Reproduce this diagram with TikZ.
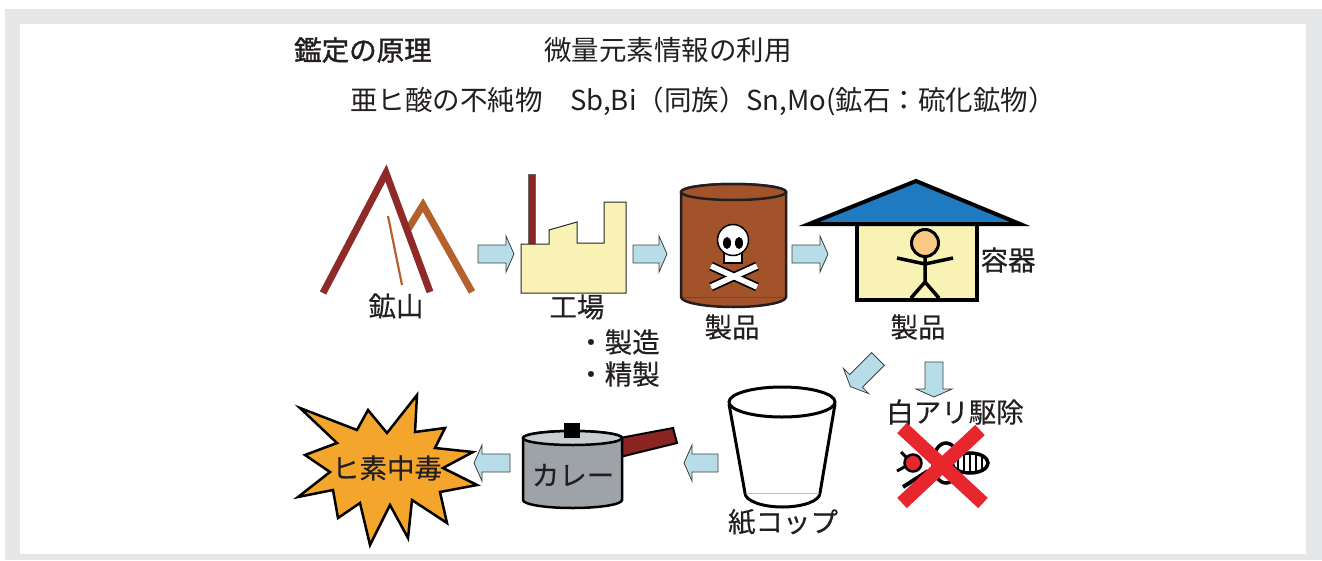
\documentclass[tikz,border=0pt]{standalone}
\usepackage{fontspec}
\setmainfont{Noto Sans CJK JP}
\newfontfamily\medfont{Noto Sans CJK JP}[FakeBold=0.35]
\newfontfamily\headfont{Noto Sans CJK JP}[FakeBold=1.3]
\definecolor{framegray}{HTML}{E6E7E8}
\definecolor{txt}{HTML}{231F20}
\definecolor{arrowblue}{HTML}{B7DDE8}
\definecolor{mtred}{HTML}{8E2A27}
\definecolor{mtorange}{HTML}{B4612E}
\definecolor{paleyellow}{HTML}{F8F2B4}
\definecolor{darkred}{HTML}{8B2524}
\definecolor{barrel}{HTML}{A3532A}
\definecolor{roof}{HTML}{1F7AC0}
\definecolor{skin}{HTML}{F8C985}
\definecolor{potgray}{HTML}{9EA3A8}
\definecolor{lidgray}{HTML}{C9CCD1}
\definecolor{blast}{HTML}{F4A52B}
\definecolor{xred}{HTML}{E8262E}
\tikzset{
  label/.style={inner sep=0pt, text=txt, font=\medfont\fontsize{27.5}{30}\selectfont},
  plain/.style={inner sep=0pt, text=txt, font=\fontsize{27.5}{30}\selectfont},
  blockarrow/.pic={
    \draw[fill=arrowblue, draw=black!75, line width=0.8pt, line join=miter]
      (0,-9) -- (\pgfkeysvalueof{/tikz/arrowlen}-8,-9) -- (\pgfkeysvalueof{/tikz/arrowlen}-8,-18)
      -- (\pgfkeysvalueof{/tikz/arrowlen},0) -- (\pgfkeysvalueof{/tikz/arrowlen}-8,18)
      -- (\pgfkeysvalueof{/tikz/arrowlen}-8,9) -- (0,9) -- cycle;
  },
  arrowlen/.initial=36,
}
\begin{document}
\begin{tikzpicture}[x=1pt,y=-1pt]
\useasboundingbox (0,0) rectangle (1322,560);
% frame
\fill[white] (0,0) rectangle (1322,560);
\fill[framegray] (5,9) rectangle (1322,560);
\fill[white] (20,24) rectangle (1306,554);

% headings
\node[plain, anchor=west, font=\headfont\fontsize{27.5}{30}\selectfont] (title) at (294,50) {鑑定の原理};
\node[plain, anchor=west] (subtitle) at (544,50) {微量元素情報の利用};
\node[plain, anchor=west] (impurity) at (350,101) {亜ヒ酸の不純物　Sb,Bi（同族）Sn,Mo(鉱石：硫化鉱物）};

% mountain
\draw[mtorange, line width=7pt, line join=miter] (407,231) -- (423,205) -- (472,292);
\draw[mtred, line width=7pt, line join=miter] (323,293) -- (386,173) -- (430,292);
\draw[mtorange, line width=2.2pt] (388,216) -- (402,285);
\node[label] (mine) at (396,306) {鉱山};

% factory
\draw[fill=darkred, draw=black!60, line width=0.6pt] (528,174) rectangle (535,244);
\draw[fill=paleyellow, draw=black!85, line width=1pt, line join=miter]
  (521,293) -- (521,244) -- (549,244) -- (549,230) -- (577,222) -- (577,243)
  -- (604,243) -- (604,202) -- (626,202) -- (626,293) -- cycle;
\node[label] (factory) at (577,307) {工場};
\node[label, anchor=west] (make) at (577,342) {・製造};
\node[label, anchor=west] (refine) at (577,374) {・精製};

% barrel with skull
\draw[fill=barrel, draw=txt, line width=2.5pt]
  (681,192) -- (681,297) arc[start angle=180, end angle=0, x radius=52.5, y radius=10]
  -- (786,192) arc[start angle=0, end angle=-180, x radius=52.5, y radius=8] -- cycle;
\draw[fill=barrel, draw=txt, line width=2.5pt] (733.5,192) ellipse[x radius=52.5, y radius=8];
\draw[barrel!80!black, line width=0.6pt] (683,297) -- (784,297);
\foreach \a/\b in {{(711,266)}/{(757,287)},{(757,266)}/{(711,287)}}
  \draw[black, line width=9pt] \a -- \b;
\foreach \a/\b in {{(711,266)}/{(757,287)},{(757,266)}/{(711,287)}}
  \draw[white, line width=5.5pt] \a -- \b;
\draw[fill=white, draw=black, line width=1.5pt] (724,251) rectangle (742,263);
\draw[fill=white, draw=black, line width=1.5pt] (733,240) circle[radius=15.5];
\fill[black] (727,243) ellipse[x radius=4, y radius=6];
\fill[black] (739,243) ellipse[x radius=4, y radius=6];
\node[label] (product1) at (732,327) {製品};

% house with figure
\draw[fill=paleyellow, draw=black, line width=4pt] (857,224) rectangle (977,300);
\draw[fill=roof, draw=black, line width=4pt, line join=miter] (809,224) -- (916,181) -- (1020,224) -- cycle;
\draw[black, line width=3.5pt, line join=round]
  (925,257) -- (925,282)
  (897,258) -- (925,264) -- (953,258)
  (911,298) -- (925,282) -- (939,298);
\draw[fill=skin, draw=black, line width=3pt] (925,243) circle[radius=13.5];
\node[label] (vessel) at (1008,260) {容器};
\node[label] (product2) at (918,327) {製品};

% termite crossed out
\draw[black, line width=3pt] (897,471) -- (906,466) (901,452) -- (907,458);
\draw[black, line width=4pt] (903,487) -- (928,471);
\draw[black, line width=3.5pt] (946,463) ellipse[x radius=13, y radius=20];
\draw[fill=white, draw=black, line width=3.5pt] (970,463) ellipse[x radius=18, y radius=10];
\foreach \x in {958,964,970,976,982}
  \draw[black, line width=1.5pt] (\x,455) -- (\x,471);
\draw[fill=xred, draw=black, line width=2.5pt] (913,463) circle[radius=8.5];
\draw[xred, line width=14pt] (902,428) -- (983,503) (980,430) -- (902,503);
\node[label] (termite) at (955,412) {白アリ駆除};

% paper cup
\draw[fill=white, draw=black, line width=3pt, line join=round]
  (729,404) -- (745,493) arc[start angle=180, end angle=0, x radius=37.5, y radius=14] -- (835,404);
\draw[black!25, line width=1pt] (746,493) -- (819,493);
\draw[fill=white, draw=black, line width=3pt] (782,402) ellipse[x radius=53, y radius=15];
\node[label] (cup) at (783,522) {紙コップ};

% curry pot
\draw[fill=darkred, draw=black, line width=2pt, line join=miter] (620,438) -- (673,428) -- (677,443) -- (620,457) -- cycle;
\draw[fill=potgray, draw=black, line width=2.5pt]
  (523,438) -- (523,500) arc[start angle=180, end angle=0, x radius=49.5, y radius=8]
  -- (622,438) arc[start angle=0, end angle=-180, x radius=49.5, y radius=7] -- cycle;
\draw[fill=lidgray, draw=black, line width=2.5pt] (572.5,438) ellipse[x radius=49.5, y radius=7];
\fill[black] (564,423) rectangle (580,438);
\node[label] (curry) at (573,475) {カレー};

% poisoning burst
\draw[fill=blast, draw=black, line width=2.5pt, line join=miter]
  (417,395) -- (415,432) -- (445,428) -- (435,448) -- (473,452) -- (443,468)
  -- (477,485) -- (440,492) -- (447,523) -- (412,500) -- (408,538) -- (390,505)
  -- (370,545) -- (360,503) -- (338,518) -- (333,490) -- (298,497) -- (330,472)
  -- (305,455) -- (337,443) -- (300,408) -- (357,430) -- (368,410) -- (387,433) -- cycle;
\node[label] (poison) at (387,468) {ヒ素中毒};

% process arrows
\pic[arrowlen=36] at (478,254) {blockarrow};
\pic[arrowlen=34] at (633,254) {blockarrow};
\pic[arrowlen=36] at (792,254) {blockarrow};
\pic[rotate=-135, arrowlen=39] at (878,359) {blockarrow};
\pic[rotate=-90, arrowlen=35] at (934,362) {blockarrow};
\pic[rotate=180, arrowlen=34] at (718,463) {blockarrow};
\pic[rotate=180, arrowlen=36] at (510,463) {blockarrow};
\end{tikzpicture}
\end{document}
